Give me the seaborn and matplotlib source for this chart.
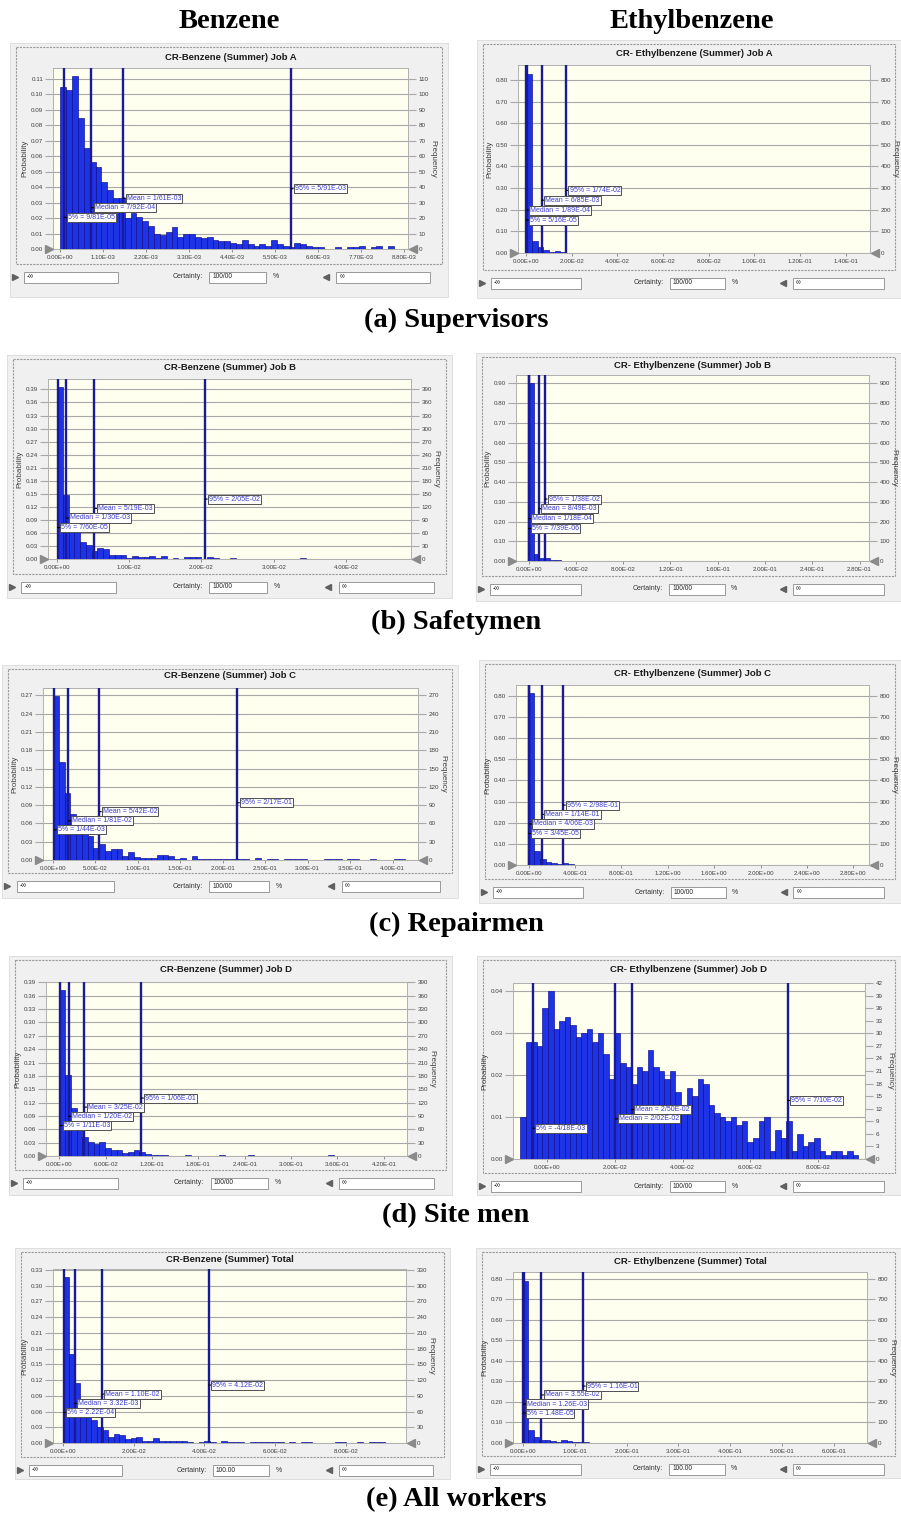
import numpy as np
import pandas as pd
import seaborn as sns
import matplotlib.pyplot as plt
from matplotlib.patches import Rectangle
from matplotlib.transforms import offset_copy, blended_transform_factory

sns.set_style("white")
plt.rcParams["font.family"] = ["Liberation Sans", "DejaVu Sans"]

W, H = 901, 1515

# ---------------- data ----------------
stat_names = ["5%", "Median", "Mean", "95%"]

# (a) Supervisors
benz_a_start, benz_a_width = 0.0, 1.5e-4
benz_a_prob = [0.105, 0.103, 0.112, 0.085, 0.065, 0.056, 0.053, 0.043, 0.038, 0.033,
               0.033, 0.020, 0.023, 0.021, 0.018, 0.015, 0.010, 0.009, 0.011, 0.014,
               0.008, 0.010, 0.010, 0.008, 0.007, 0.008, 0.006, 0.005, 0.005, 0.004,
               0.003, 0.006, 0.003, 0.002, 0.003, 0.002, 0.006, 0.003, 0.002, 0.001,
               0.004, 0.003, 0.002, 0.001, 0.001, 0.000, 0.000, 0.001, 0.000, 0.001,
               0.001, 0.002, 0.000, 0.001, 0.002, 0.000, 0.002]
benz_a_stats = [9.81e-5, 7.92e-4, 1.61e-3, 5.91e-3]
benz_a_text = ["9/81E-05", "7/92E-04", "1/61E-03", "5/91E-03"]

ethyl_a_start, ethyl_a_width = 0.0, 0.0025
ethyl_a_prob = [0.828, 0.054, 0.026, 0.014, 0.005, 0.007, 0.003, 0.001, 0.001, 0.001,
                0.001, 0.000, 0.001, 0.000, 0.001, 0.000, 0.001, 0.000, 0.001, 0.000,
                0.000, 0.000, 0.000, 0.000, 0.000, 0.000, 0.000, 0.000, 0.000, 0.000,
                0.000, 0.000, 0.000, 0.000, 0.000, 0.000, 0.000, 0.000, 0.001, 0.000,
                0.001, 0.000, 0.000, 0.000, 0.000, 0.000, 0.000, 0.000, 0.000, 0.000,
                0.000, 0.000, 0.000, 0.000, 0.000, 0.001]
ethyl_a_stats = [5.16e-5, 1.89e-4, 6.85e-3, 1.74e-2]
ethyl_a_text = ["5/16E-05", "1/89E-04", "6/85E-03", "1/74E-02"]

# (b) Safetymen
benz_b_start, benz_b_width = 0.0, 8.0e-4
benz_b_prob = [0.395, 0.148, 0.105, 0.075, 0.039, 0.033, 0.019, 0.025, 0.023, 0.010,
               0.009, 0.009, 0.003, 0.006, 0.005, 0.004, 0.006, 0.003, 0.008, 0.001,
               0.003, 0.001, 0.005, 0.004, 0.004, 0.000, 0.005, 0.002, 0.001, 0.001,
               0.002, 0.000, 0.000, 0.001, 0.000, 0.000, 0.001, 0.001, 0.000, 0.001,
               0.001, 0.001, 0.003, 0.001, 0.000, 0.000, 0.001, 0.000, 0.000, 0.000,
               0.001, 0.001, 0.000, 0.000, 0.001, 0.001]
benz_b_stats = [7.60e-5, 1.30e-3, 5.19e-3, 2.05e-2]
benz_b_text = ["7/60E-05", "1/30E-03", "5/19E-03", "2/05E-02"]

ethyl_b_start, ethyl_b_width = 0.0, 0.0045
ethyl_b_prob = [0.900, 0.037, 0.015, 0.013, 0.006, 0.003, 0.002, 0.002, 0.001, 0.001,
                0.000, 0.002, 0.000, 0.000, 0.000, 0.000, 0.002]
ethyl_b_stats = [7.39e-6, 1.18e-4, 8.49e-3, 1.38e-2]
ethyl_b_text = ["7/39E-06", "1/18E-04", "8/49E-03", "1/38E-02"]

# (c) Repairmen
benz_c_start, benz_c_width = 0.0, 0.0068
benz_c_prob = [0.269, 0.160, 0.110, 0.076, 0.055, 0.045, 0.040, 0.020, 0.026, 0.015,
               0.018, 0.018, 0.006, 0.013, 0.005, 0.004, 0.004, 0.004, 0.009, 0.008,
               0.006, 0.002, 0.004, 0.000, 0.006, 0.001, 0.001, 0.002, 0.002, 0.001,
               0.002, 0.001, 0.002, 0.002, 0.000, 0.003, 0.000, 0.001, 0.001, 0.000,
               0.002, 0.001, 0.001, 0.002, 0.000, 0.000, 0.000, 0.001, 0.002, 0.002,
               0.000, 0.002, 0.001, 0.000, 0.000, 0.002, 0.000, 0.000, 0.000, 0.001,
               0.001]
benz_c_stats = [1.44e-3, 1.81e-2, 5.42e-2, 2.17e-1]
benz_c_text = ["1/44E-03", "1/81E-02", "5/42E-02", "2/17E-01"]

ethyl_c_start, ethyl_c_width = 0.0, 0.049
ethyl_c_prob = [0.812, 0.066, 0.028, 0.016, 0.010, 0.006, 0.008, 0.004, 0.002, 0.002,
                0.000, 0.000, 0.001, 0.001, 0.001, 0.001, 0.000, 0.001, 0.000, 0.000,
                0.001, 0.000, 0.001]
ethyl_c_stats = [3.45e-5, 4.06e-3, 1.14e-1, 2.98e-1]
ethyl_c_text = ["3/45E-05", "4/06E-03", "1/14E-01", "2/98E-01"]

# (d) Site men
benz_d_start, benz_d_width = 0.0, 0.0074
benz_d_prob = [0.374, 0.181, 0.107, 0.084, 0.043, 0.032, 0.027, 0.032, 0.017, 0.013,
               0.013, 0.006, 0.010, 0.013, 0.008, 0.004, 0.003, 0.003, 0.002, 0.001,
               0.001, 0.000, 0.002, 0.001, 0.001, 0.000, 0.000, 0.000, 0.002, 0.000,
               0.000, 0.001, 0.001, 0.002, 0.000, 0.000, 0.001, 0.000, 0.000, 0.000,
               0.001, 0.000, 0.001, 0.000, 0.000, 0.000, 0.000, 0.003, 0.001, 0.000,
               0.000, 0.000, 0.000, 0.001]
benz_d_stats = [1.11e-3, 1.20e-2, 3.25e-2, 1.06e-1]
benz_d_text = ["1/11E-03", "1/20E-02", "3/25E-02", "1/06E-01"]

ethyl_d_start, ethyl_d_width = -0.00785, 0.001634
ethyl_d_prob = [0.010, 0.028, 0.028, 0.027, 0.036, 0.040, 0.031, 0.033, 0.034, 0.032,
                0.029, 0.030, 0.031, 0.028, 0.030, 0.025, 0.019, 0.030, 0.023, 0.022,
                0.018, 0.022, 0.021, 0.026, 0.022, 0.021, 0.019, 0.021, 0.016, 0.013,
                0.017, 0.015, 0.019, 0.018, 0.013, 0.011, 0.010, 0.009, 0.010, 0.008,
                0.009, 0.004, 0.005, 0.009, 0.010, 0.002, 0.007, 0.005, 0.009, 0.002,
                0.006, 0.003, 0.004, 0.005, 0.002, 0.001, 0.002, 0.002, 0.001, 0.002,
                0.001]
ethyl_d_stats = [-4.18e-3, 2.02e-2, 2.50e-2, 7.10e-2]
ethyl_d_text = ["-4/18E-03", "2/02E-02", "2/50E-02", "7/10E-02"]

# (e) All workers
benz_e_start, benz_e_width = 0.0, 0.0016
benz_e_prob = [0.316, 0.170, 0.114, 0.065, 0.050, 0.044, 0.030, 0.024, 0.011, 0.018,
               0.016, 0.008, 0.010, 0.011, 0.003, 0.003, 0.009, 0.003, 0.003, 0.004,
               0.004, 0.003, 0.001, 0.000, 0.002, 0.004, 0.001, 0.000, 0.003, 0.001,
               0.001, 0.001, 0.000, 0.001, 0.001, 0.001, 0.002, 0.002, 0.001, 0.000,
               0.002, 0.000, 0.002, 0.002, 0.000, 0.000, 0.000, 0.000, 0.001, 0.001,
               0.000, 0.000, 0.001, 0.000, 0.001, 0.001, 0.001]
benz_e_stats = [2.22e-4, 3.32e-3, 1.10e-2, 4.12e-2]
benz_e_text = ["2.22E-04", "3.32E-03", "1.10E-02", "4.12E-02"]

ethyl_e_start, ethyl_e_width = 0.0, 0.0106
ethyl_e_prob = [0.790, 0.065, 0.028, 0.016, 0.013, 0.012, 0.006, 0.013, 0.009, 0.006,
                0.004, 0.003, 0.001, 0.001, 0.001, 0.001, 0.001, 0.000, 0.000, 0.000,
                0.000, 0.000, 0.000, 0.002, 0.000, 0.000, 0.000, 0.000, 0.002, 0.000,
                0.000, 0.000, 0.000, 0.000, 0.000, 0.000, 0.000, 0.000, 0.000, 0.002]
ethyl_e_stats = [1.48e-5, 1.26e-3, 3.55e-2, 1.16e-1]
ethyl_e_text = ["1.48E-05", "1.26E-03", "3.55E-02", "1.16E-01"]

col_titles = ["Benzene", "Ethylbenzene"]
row_captions = ["(a) Supervisors", "(b) Safetymen", "(c) Repairmen", "(d) Site men", "(e) All workers"]

# ---------------- panel set-up (pixel layout of each screenshot) ----------------
PANELS = [
    dict(title="CR-Benzene (Summer) Job A", start=benz_a_start, width=benz_a_width, prob=benz_a_prob,
         stats=benz_a_stats, text=benz_a_text, xlim=(-1.9e-4, 8.91e-3), xstep=1.1e-3, nx=9,
         ytop=0.117, ystep=0.01, ny=12, fstep=10, nf=12, cert="100/00",
         outer=(10, 43, 448, 297), axes=(53, 68, 408, 249), ty=57, cy=277),
    dict(title="CR- Ethylbenzene (Summer) Job A", start=ethyl_a_start, width=ethyl_a_width, prob=ethyl_a_prob,
         stats=ethyl_a_stats, text=ethyl_a_text, xlim=(-0.0036, 0.1507), xstep=0.02, nx=8,
         ytop=0.869, ystep=0.1, ny=9, fstep=100, nf=9, cert="100/00",
         outer=(477, 40, 901, 298), axes=(518, 65, 870, 253), ty=53, cy=283),
    dict(title="CR-Benzene (Summer) Job B", start=benz_b_start, width=benz_b_width, prob=benz_b_prob,
         stats=benz_b_stats, text=benz_b_text, xlim=(-0.00124, 0.049), xstep=0.01, nx=5,
         ytop=0.414, ystep=0.03, ny=14, fstep=30, nf=14, cert="100/00",
         outer=(7, 355, 452, 598), axes=(48, 379, 411, 559), ty=367, cy=587),
    dict(title="CR- Ethylbenzene (Summer) Job B", start=ethyl_b_start, width=ethyl_b_width, prob=ethyl_b_prob,
         stats=ethyl_b_stats, text=ethyl_b_text, xlim=(-0.0107, 0.288), xstep=0.04, nx=8,
         ytop=0.942, ystep=0.1, ny=10, fstep=100, nf=10, cert="100/00",
         outer=(476, 353, 901, 601), axes=(516, 375, 869, 561), ty=365, cy=589),
    dict(title="CR-Benzene (Summer) Job C", start=benz_c_start, width=benz_c_width, prob=benz_c_prob,
         stats=benz_c_stats, text=benz_c_text, xlim=(-0.0118, 0.43), xstep=0.05, nx=9,
         ytop=0.282, ystep=0.03, ny=10, fstep=30, nf=10, cert="100/00",
         outer=(2, 665, 458, 898), axes=(43, 688, 418, 860), ty=676, cy=886),
    dict(title="CR- Ethylbenzene (Summer) Job C", start=ethyl_c_start, width=ethyl_c_width, prob=ethyl_c_prob,
         stats=ethyl_c_stats, text=ethyl_c_text, xlim=(-0.109, 2.935), xstep=0.4, nx=8,
         ytop=0.852, ystep=0.1, ny=9, fstep=100, nf=9, cert="100/00",
         outer=(479, 660, 901, 903), axes=(516, 685, 869, 865), ty=673, cy=892),
    dict(title="CR-Benzene (Summer) Job D", start=benz_d_start, width=benz_d_width, prob=benz_d_prob,
         stats=benz_d_stats, text=benz_d_text, xlim=(-0.0173, 0.450), xstep=0.06, nx=8,
         ytop=0.391, ystep=0.03, ny=14, fstep=30, nf=14, cert="100/00",
         outer=(9, 956, 452, 1195), axes=(46, 982, 407, 1156), ty=969, cy=1183),
    dict(title="CR- Ethylbenzene (Summer) Job D", start=ethyl_d_start, width=ethyl_d_width, prob=ethyl_d_prob,
         stats=ethyl_d_stats, text=ethyl_d_text, xlim=(-0.0100, 0.0938), xstep=0.02, nx=5,
         ytop=0.042, ystep=0.01, ny=5, fstep=3, nf=15, cert="100/00",
         outer=(477, 956, 901, 1195), axes=(513, 983, 865, 1159), ty=970, cy=1186),
    dict(title="CR-Benzene (Summer) Total", start=benz_e_start, width=benz_e_width, prob=benz_e_prob,
         stats=benz_e_stats, text=benz_e_text, xlim=(-0.0028, 0.097), xstep=0.02, nx=5,
         ytop=0.332, ystep=0.03, ny=12, fstep=30, nf=12, cert="100.00",
         outer=(15, 1248, 450, 1479), axes=(53, 1269, 406, 1443), ty=1259, cy=1470),
    dict(title="CR- Ethylbenzene (Summer) Total", start=ethyl_e_start, width=ethyl_e_width, prob=ethyl_e_prob,
         stats=ethyl_e_stats, text=ethyl_e_text, xlim=(-0.0193, 0.664), xstep=0.1, nx=7,
         ytop=0.833, ystep=0.1, ny=9, fstep=100, nf=9, cert="100.00",
         outer=(476, 1248, 901, 1478), axes=(513, 1272, 867, 1443), ty=1262, cy=1469),
]

BAR = "#1e32e6"
EDGE = "#0a0a8c"
VLINE = "#1a1a96"
GRID = "#a8a8a8"
TXT = "#404040"
label_frac = [0.175, 0.228, 0.281, 0.333]

fig = plt.figure(figsize=(W / 100, H / 100), dpi=100)
bg = fig.add_axes([0, 0, 1, 1])
bg.set_xlim(0, W)
bg.set_ylim(H, 0)
bg.axis("off")
bg.set_zorder(-1)


def draw_panel(p):
    ox0, oy0, ox1, oy1 = p["outer"]
    a0, b0, a1, b1 = p["axes"]
    ow = ox1 - ox0

    # screenshot background + dashed chart frame
    bg.add_patch(Rectangle((ox0, oy0), ow, oy1 - oy0, fc="#f0f0f0", ec="#dadada", lw=0.6))
    fx1 = min(ox1 - 6, 899)
    bg.add_patch(Rectangle((ox0 + 6, oy0 + 4), fx1 - ox0 - 6, p["cy"] - 13 - oy0 - 4,
                           fc="none", ec="#9a9a9a", lw=0.8, ls=(0, (2, 1))))
    bg.text((a0 + a1) / 2, p["ty"], p["title"], ha="center", va="center",
            fontsize=6.8, fontweight="bold", color="#1a1a1a")
    bg.text(a0 - 28, (b0 + b1) / 2, "Probability", rotation=90, ha="center", va="center",
            fontsize=5.8, color=TXT)
    bg.text(a1 + 25, (b0 + b1) / 2, "Frequency", rotation=270, ha="center", va="center",
            fontsize=5.8, color=TXT)

    # certainty widgets under the chart
    cy = p["cy"]
    bg.plot(ox0 + 0.012 * ow, cy, marker=">", ms=4.5, color="#606060")
    bg.plot(ox0 + 0.722 * ow, cy, marker="<", ms=4.5, color="#606060")
    for fa, fb, s in [(0.032, 0.246, "-\u221e"), (0.455, 0.585, p["cert"]), (0.745, 0.96, "\u221e")]:
        bx0, bx1 = ox0 + fa * ow, min(ox0 + fb * ow, 898)
        bg.add_patch(Rectangle((bx0, cy - 5.5), bx1 - bx0, 11, fc="white", ec="#8a8a8a", lw=0.6))
        bg.text(bx0 + 3, cy, s, ha="left", va="center", fontsize=4.8, color="#222222")
    bg.text(ox0 + 0.44 * ow, cy, "Certainty:", ha="right", va="center", fontsize=5.0, color="#333333")
    bg.text(ox0 + 0.60 * ow, cy, "%", ha="left", va="center", fontsize=5.0, color="#333333")

    # histogram
    ax = fig.add_axes([a0 / W, 1 - b1 / H, (a1 - a0) / W, (b1 - b0) / H])
    ax.set_facecolor("#fffff0")
    prob = np.array(p["prob"], dtype=float)
    n = len(prob)
    df = pd.DataFrame({"value": p["start"] + p["width"] * (np.arange(n) + 0.5), "prob": prob})
    sns.histplot(data=df, x="value", weights="prob", binwidth=p["width"],
                 binrange=(p["start"], p["start"] + n * p["width"]), ax=ax, color=BAR,
                 edgecolor=EDGE, linewidth=0.45, alpha=1)

    for v in p["stats"]:
        ax.axvline(v, color=VLINE, lw=1.7, zorder=4)

    tr = blended_transform_factory(ax.transData, ax.transAxes)
    for v, name, s, fr in zip(p["stats"], stat_names, p["text"], label_frac):
        ax.annotate(f"{name} = {s}", xy=(v, fr), xycoords=tr, xytext=(2.6, 0),
                    textcoords="offset points", ha="left", va="center", fontsize=5.0,
                    color="#3b3bc8", zorder=6, annotation_clip=False,
                    bbox=dict(boxstyle="square,pad=0.15", fc="white", ec="#505050", lw=0.7),
                    arrowprops=dict(arrowstyle="-", lw=0.8, color="black", shrinkA=0, shrinkB=0))

    ax.set_xlim(*p["xlim"])
    ax.set_ylim(0, p["ytop"])
    xt = np.arange(p["nx"]) * p["xstep"]
    ax.set_xticks(xt)
    ax.set_xticklabels([f"{v:.2E}" for v in xt])
    yt = np.arange(p["ny"]) * p["ystep"]
    ax.set_yticks(yt)
    ax.set_yticklabels([f"{v:.2f}" for v in yt])
    ax.set_xlabel("")
    ax.set_ylabel("")
    ax.grid(axis="y", color=GRID, lw=0.8)
    ax.grid(axis="x", visible=False)
    ax.set_axisbelow(True)
    for sp in ax.spines.values():
        sp.set_color("#b0b0b0")
        sp.set_linewidth(0.7)
    ax.tick_params(axis="y", length=6, width=0.8, color=GRID, labelsize=4.5,
                   labelcolor=TXT, pad=1, left=True)
    ax.tick_params(axis="x", length=2.5, width=0.6, color="#808080", labelsize=4.4,
                   labelcolor=TXT, pad=1.5, bottom=True)

    sec = ax.secondary_yaxis("right", functions=(lambda y: y * 1000, lambda f: f / 1000))
    ft = np.arange(p["nf"]) * p["fstep"]
    sec.set_yticks(ft)
    sec.set_yticklabels([f"{int(round(v))}" for v in ft])
    sec.tick_params(length=6, width=0.8, color=GRID, labelsize=4.5, labelcolor=TXT, pad=1.5)
    sec.spines["right"].set_visible(False)

    # grey slider arrows at the ends of the x axis
    ax.plot(0, 0, marker=">", ms=5.5, color="#8a8a8a", clip_on=False, zorder=8,
            transform=offset_copy(ax.transAxes, fig=fig, x=-4, y=0, units="dots"))
    ax.plot(1, 0, marker="<", ms=5.5, color="#8a8a8a", clip_on=False, zorder=8,
            transform=offset_copy(ax.transAxes, fig=fig, x=5, y=0, units="dots"))


for p in PANELS:
    draw_panel(p)

# column headers and row captions
serif = dict(family=["Liberation Serif", "DejaVu Serif"], fontweight="bold", fontsize=20.5,
             ha="center", va="center", color="black")
bg.text(229, 22, col_titles[0], **serif)
bg.text(692, 22, col_titles[1], **serif)
for y, cap in zip([320, 622, 924, 1216, 1500], row_captions):
    bg.text(456, y, cap, **serif)

fig.savefig("out.png", dpi=100)
